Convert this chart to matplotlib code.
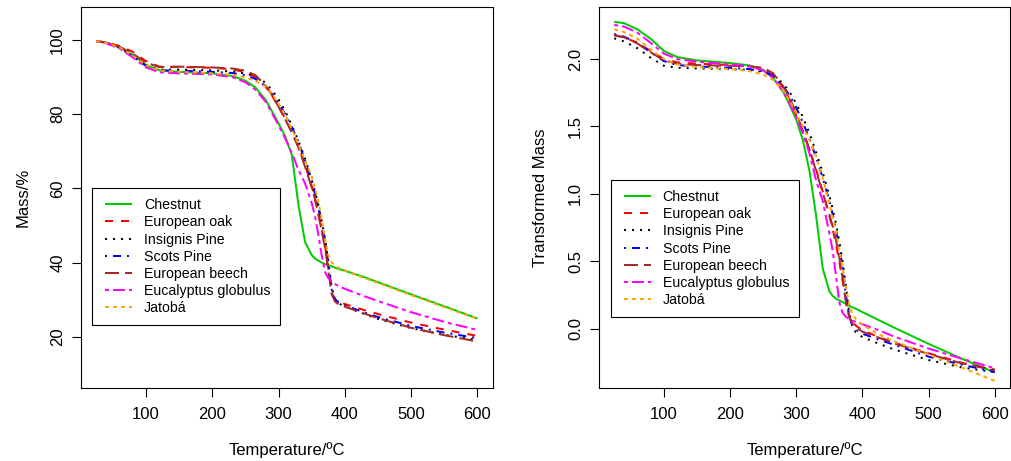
import matplotlib
matplotlib.use("Agg")
import matplotlib.pyplot as plt
from matplotlib.lines import Line2D
from matplotlib.legend_handler import HandlerLine2D

plt.rcParams['font.family'] = ['Liberation Sans', 'DejaVu Sans']
plt.rcParams['lines.scale_dashes'] = False

# ---------------- data ----------------
temperature = [25, 40, 60, 80, 100, 120, 150, 200, 230, 250, 265, 280, 290, 300, 310,
               320, 330, 340, 350, 355, 360, 365, 370, 375, 380, 385, 390, 400, 425,
               450, 500, 550, 600]

species = ["Chestnut", "European oak", "Insignis Pine", "Scots Pine",
           "European beech", "Eucalyptus globulus", "Jatobá"]

# Mass / %
mass_chestnut = [99.7, 99.2, 98.0, 96.0, 93.3, 91.8, 91.4, 91.0, 90.3, 89.0, 87.2, 84.0, 80.8, 77.5, 74.0,
                 69.0, 55.5, 45.5, 42.0, 41.1, 40.5, 40.0, 39.6, 39.3, 39.0, 38.6, 38.3, 37.8, 36.3,
                 34.7, 31.4, 28.2, 24.9]
mass_oak = [99.7, 99.3, 98.4, 96.8, 94.3, 92.8, 92.7, 92.5, 92.1, 91.3, 90.0, 87.5, 85.0, 82.0, 78.8,
            75.5, 71.5, 66.3, 60.6, 57.2, 53.3, 49.0, 44.5, 38.5, 32.0, 30.0, 29.4, 28.8, 27.4,
            26.1, 23.8, 21.9, 20.2]
mass_insignis = [99.7, 99.2, 98.0, 95.8, 93.2, 92.0, 92.0, 91.8, 91.5, 91.0, 90.2, 88.5, 86.5, 84.0, 80.8,
                 77.0, 72.8, 68.0, 62.3, 59.0, 55.5, 51.2, 46.5, 40.5, 33.5, 30.0, 29.0, 28.2, 26.4,
                 24.8, 22.3, 20.5, 19.1]
mass_scots = [99.7, 99.2, 97.9, 95.6, 93.0, 91.8, 91.7, 91.4, 91.1, 90.5, 89.5, 87.5, 85.5, 83.0, 80.0,
              76.5, 72.5, 67.5, 61.8, 58.5, 54.8, 50.5, 46.0, 40.0, 32.8, 30.2, 29.3, 28.5, 26.8,
              25.3, 22.9, 21.1, 19.6]
mass_beech = [99.7, 99.3, 98.2, 96.3, 93.9, 92.7, 92.8, 92.6, 92.3, 91.7, 90.5, 87.8, 85.2, 82.0, 78.6,
              75.0, 71.0, 65.8, 60.2, 57.0, 53.0, 48.5, 44.0, 38.0, 31.5, 29.5, 28.8, 28.1, 26.5,
              25.0, 22.4, 20.4, 18.7]
mass_eucalyptus = [99.7, 99.1, 97.7, 95.3, 92.6, 91.3, 91.0, 90.7, 90.0, 88.6, 86.6, 83.5, 80.3, 77.0, 73.5,
                   69.5, 65.0, 61.3, 56.0, 52.5, 47.5, 42.0, 37.5, 35.8, 34.9, 34.2, 33.7, 32.9, 31.2,
                   29.6, 26.6, 24.0, 21.8]
mass_jatoba = [99.7, 99.2, 98.0, 95.8, 93.2, 91.8, 91.4, 91.0, 90.6, 89.9, 89.0, 87.5, 85.5, 82.8, 79.8,
               76.0, 71.8, 67.6, 63.2, 60.0, 56.5, 51.8, 46.5, 42.0, 40.0, 39.3, 38.6, 37.8, 36.1,
               34.5, 31.2, 28.0, 24.8]

# Transformed mass
trans_chestnut = [2.276, 2.265, 2.22, 2.15, 2.06, 2.015, 1.99, 1.97, 1.952, 1.92, 1.86, 1.76, 1.66, 1.55, 1.40,
                  1.17, 0.84, 0.45, 0.28, 0.245, 0.225, 0.212, 0.20, 0.185, 0.172, 0.16, 0.15, 0.125, 0.065,
                  0.005, -0.11, -0.22, -0.322]
trans_oak = [2.178, 2.16, 2.12, 2.06, 2.0, 1.975, 1.965, 1.955, 1.945, 1.93, 1.89, 1.79, 1.70, 1.58, 1.46,
             1.33, 1.18, 1.02, 0.84, 0.74, 0.63, 0.50, 0.36, 0.22, 0.10, 0.05, 0.025, -0.01, -0.06,
             -0.105, -0.18, -0.25, -0.31]
trans_insignis = [2.153, 2.13, 2.08, 2.01, 1.95, 1.935, 1.93, 1.925, 1.92, 1.905, 1.88, 1.82, 1.755, 1.67, 1.57,
                  1.45, 1.31, 1.16, 0.99, 0.89, 0.78, 0.65, 0.50, 0.32, 0.12, 0.02, -0.025, -0.06, -0.11,
                  -0.155, -0.23, -0.285, -0.32]
trans_scots = [2.185, 2.165, 2.12, 2.05, 1.985, 1.955, 1.945, 1.935, 1.925, 1.91, 1.875, 1.80, 1.73, 1.64, 1.53,
               1.41, 1.27, 1.12, 0.95, 0.85, 0.74, 0.61, 0.46, 0.25, 0.10, 0.02, -0.005, -0.035, -0.08,
               -0.12, -0.205, -0.265, -0.318]
trans_beech = [2.175, 2.16, 2.115, 2.05, 1.99, 1.965, 1.955, 1.95, 1.945, 1.935, 1.895, 1.80, 1.71, 1.60, 1.47,
               1.33, 1.17, 1.01, 0.85, 0.76, 0.66, 0.53, 0.38, 0.20, 0.09, 0.04, 0.015, -0.02, -0.065,
               -0.11, -0.185, -0.255, -0.30]
trans_eucalyptus = [2.252, 2.24, 2.195, 2.12, 2.04, 2.0, 1.98, 1.96, 1.945, 1.915, 1.86, 1.76, 1.67, 1.57, 1.45,
                    1.30, 1.10, 0.95, 0.71, 0.58, 0.40, 0.20, 0.12, 0.09, 0.075, 0.062, 0.052, 0.035, -0.01,
                    -0.06, -0.145, -0.22, -0.291]
trans_jatoba = [2.22, 2.2, 2.15, 2.07, 2.0, 1.96, 1.94, 1.925, 1.91, 1.885, 1.845, 1.77, 1.69, 1.60, 1.50,
                1.40, 1.28, 1.12, 0.93, 0.83, 0.72, 0.59, 0.46, 0.32, 0.18, 0.11, 0.075, 0.03, -0.04,
                -0.095, -0.19, -0.285, -0.385]

mass_series = [mass_chestnut, mass_oak, mass_insignis, mass_scots, mass_beech, mass_eucalyptus, mass_jatoba]
trans_series = [trans_chestnut, trans_oak, trans_insignis, trans_scots, trans_beech, trans_eucalyptus, trans_jatoba]

x_ticks = [100, 200, 300, 400, 500, 600]
mass_ticks = [20, 40, 60, 80, 100]
trans_ticks = [0.0, 0.5, 1.0, 1.5, 2.0]

# ---------------- styles ----------------
colors = ["#00CD00", "#FF0000", "#000000", "#0000FF", "#A52A2A", "#FF00FF", "#FFA500"]
px = 0.72  # points per pixel at 100 dpi
dashes = [None,
          (8 * px, 8 * px),
          (2 * px, 6 * px),
          (2 * px, 6 * px, 8 * px, 6 * px),
          (14 * px, 6 * px),
          (4 * px, 4 * px, 12 * px, 4 * px),
          (4 * px, 4 * px)]
LW = 2 * px


class OffsetLineHandler(HandlerLine2D):
    def __init__(self, offset, **kw):
        super().__init__(**kw)
        self.offset = offset

    def get_xdata(self, legend, xdescent, ydescent, width, height, fontsize):
        x0 = -xdescent + self.offset * fontsize
        x1 = -xdescent + width
        return [x0, x1], [0.5 * (x0 + x1)]


fig = plt.figure(figsize=(10.11, 4.61), dpi=100)
W, H = 1011.0, 461.0
ax_top, ax_bot = 7.3, 387.7
axL = fig.add_axes([81 / W, (H - ax_bot) / H, (492.7 - 81) / W, (ax_bot - ax_top) / H])
axR = fig.add_axes([599 / W, (H - ax_bot) / H, (1010 - 599) / W, (ax_bot - ax_top) / H])

FS = 12
LEG_FS = 10.2


def draw(ax, series, yticks, ylim, ylabel, yfmt, leg_xy):
    for name, ys, c, d in zip(species, series, colors, dashes):
        line, = ax.plot(temperature, ys, color=c, lw=LW, label=name,
                        solid_capstyle='butt', dash_capstyle='butt')
        if d is not None:
            line.set_dashes(d)
    ax.set_xlim(2, 623)
    ax.set_ylim(*ylim)
    ax.set_xticks(x_ticks)
    ax.set_xticklabels([str(t) for t in x_ticks])
    ax.set_yticks(yticks)
    ax.set_yticklabels([yfmt(v) for v in yticks])
    for s in ax.spines.values():
        s.set_linewidth(0.8)
        s.set_color('black')
    ax.tick_params(axis='both', direction='out', length=9 * px, width=0.8, labelsize=FS,
                   colors='black')
    ax.tick_params(axis='x', pad=7.6)
    ax.tick_params(axis='y', pad=4.9)
    plt.setp(ax.get_yticklabels(), rotation=90, va='center')
    ax.set_xlabel("Temperature/ºC", fontsize=FS)
    ax.set_ylabel(ylabel, fontsize=FS)
    ax.xaxis.set_label_coords(0.5, -0.1422)
    ax.yaxis.set_label_coords(-0.1232, 0.5)
    leg = ax.legend(loc='upper left', bbox_to_anchor=leg_xy, borderaxespad=0,
                    fontsize=LEG_FS, frameon=True, fancybox=False, edgecolor='black',
                    framealpha=1, borderpad=0.7, labelspacing=0.226,
                    handlelength=2.1, handletextpad=0.85,
                    handler_map={Line2D: OffsetLineHandler(0.2)})
    leg.get_frame().set_linewidth(0.8)


draw(axL, mass_series, mass_ticks, (6.25, 108.8), "Mass/%", lambda v: f"{v:d}",
     (11.3 / 411.7, (ax_bot - 188.3) / (ax_bot - ax_top)))
draw(axR, trans_series, trans_ticks, (-0.435, 2.383), "Transformed Mass", lambda v: f"{v:.1f}",
     (12 / 411, (ax_bot - 180) / (ax_bot - ax_top)))

fig.savefig("out.png", dpi=100)
